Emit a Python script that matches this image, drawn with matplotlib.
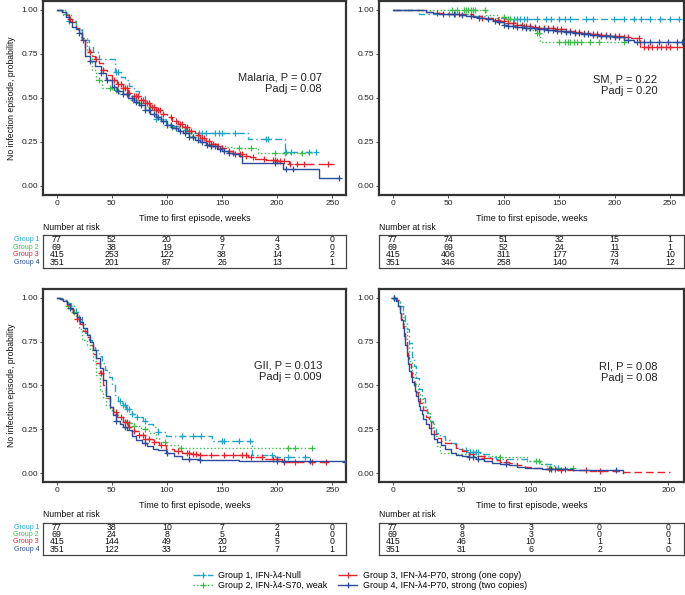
import numpy as np
import matplotlib
matplotlib.use('Agg')
import matplotlib.pyplot as plt
from matplotlib.lines import Line2D

plt.rcParams['font.family'] = ['Liberation Sans', 'DejaVu Sans']

# ---------------- data ----------------
group_names = ["Group 1", "Group 2", "Group 3", "Group 4"]
legend_labels = ["Group 1, IFN-\u03bb4-Null", "Group 2, IFN-\u03bb4-S70, weak",
                 "Group 3, IFN-\u03bb4-P70, strong (one copy)", "Group 4, IFN-\u03bb4-P70, strong (two copies)"]
colors = ["#20A4C8", "#3DBE4A", "#E8222B", "#2C4C9C"]

panel_titles = ["Malaria", "SM", "GII", "RI"]
p_values = ["0.07", "0.22", "0.013", "0.08"]
padj_values = ["0.08", "0.20", "0.009", "0.08"]

# Malaria
mal_t1 = [0, 6, 11, 17, 23, 29, 33, 38, 53, 58, 62, 66, 70, 75, 80, 85, 90, 99, 105, 111, 118, 123, 174, 207.5, 238]
mal_s1 = [1.0, 0.97, 0.94, 0.89, 0.83, 0.79, 0.76, 0.72, 0.65, 0.62, 0.60, 0.57, 0.54, 0.51, 0.47, 0.43, 0.38, 0.355, 0.34, 0.32, 0.31, 0.30, 0.265, 0.195, 0.195]
mal_c1 = [11, 54, 56, 90, 95, 117, 129, 132, 135, 144, 147, 150, 162, 190, 192, 208, 213, 229, 235]
mal_t2 = [0, 8, 13, 17, 22, 27, 32, 36, 41, 50, 55, 60, 65, 69, 75, 80, 84, 90, 95, 99, 105, 114, 118, 123, 130, 135, 145, 153, 159, 183, 232]
mal_s2 = [1.0, 0.98, 0.94, 0.90, 0.84, 0.76, 0.66, 0.60, 0.555, 0.545, 0.53, 0.52, 0.50, 0.49, 0.47, 0.45, 0.43, 0.40, 0.37, 0.345, 0.335, 0.33, 0.30, 0.28, 0.26, 0.24, 0.23, 0.22, 0.215, 0.185, 0.185]
mal_c2 = [8, 38, 48, 54, 69, 72, 75, 105, 120, 124, 165, 176, 198, 207, 223]
mal_t3 = [0, 5, 8, 11, 14, 17, 20, 23, 26, 29, 32, 35, 38, 42, 46, 50, 55, 60, 65, 70, 75, 80, 85, 90, 95, 100, 105, 110, 115, 120, 125, 130, 135, 140, 145, 150, 155, 160, 165, 170, 175, 180, 190, 200, 211, 252]
mal_s3 = [1.0, 0.99, 0.97, 0.95, 0.93, 0.90, 0.87, 0.83, 0.79, 0.76, 0.74, 0.72, 0.70, 0.66, 0.63, 0.60, 0.58, 0.555, 0.53, 0.51, 0.49, 0.47, 0.45, 0.43, 0.41, 0.39, 0.37, 0.35, 0.335, 0.315, 0.29, 0.27, 0.255, 0.24, 0.23, 0.215, 0.20, 0.19, 0.18, 0.17, 0.165, 0.155, 0.15, 0.14, 0.127, 0.127]
mal_c3 = [12, 24, 30, 36, 42, 50, 52, 56, 58, 60, 62, 64, 66, 70, 72, 74, 76, 78, 80, 82, 84, 86, 88, 90, 92, 94, 96, 104, 108, 112, 114, 116, 118, 120, 122, 128, 132, 134, 138, 140, 142, 146, 150, 156, 160, 166, 168, 172, 178, 188, 196, 198, 200, 203, 206, 212, 218, 224, 246]
mal_t4 = [0, 5, 8, 11, 14, 17, 20, 23, 26, 30, 35, 40, 45, 50, 55, 60, 65, 70, 75, 80, 85, 90, 95, 100, 105, 110, 115, 120, 125, 130, 135, 140, 145, 150, 155, 160, 165, 168, 205, 238, 256]
mal_s4 = [1.0, 0.99, 0.96, 0.93, 0.905, 0.89, 0.87, 0.83, 0.74, 0.71, 0.68, 0.64, 0.60, 0.56, 0.54, 0.52, 0.50, 0.48, 0.46, 0.43, 0.41, 0.39, 0.37, 0.345, 0.33, 0.315, 0.30, 0.28, 0.26, 0.25, 0.235, 0.225, 0.21, 0.20, 0.19, 0.18, 0.17, 0.133, 0.095, 0.045, 0.045]
mal_c4 = [20, 30, 40, 46, 52, 56, 60, 64, 68, 72, 76, 80, 84, 88, 92, 96, 100, 104, 108, 112, 116, 120, 124, 128, 132, 136, 140, 144, 148, 152, 156, 162, 198, 208, 214, 256]

# SM
sm_t1 = [0, 24, 54, 70, 84, 102, 262]
sm_s1 = [1.0, 0.977, 0.975, 0.965, 0.955, 0.948, 0.948]
sm_c1 = [51, 56, 109, 112, 115, 118, 121, 130, 138, 143, 150, 155, 160, 174, 180, 199, 208, 217, 224, 232, 241, 250, 258]
sm_t2 = [0, 84, 95, 102, 110, 120, 130, 133, 211]
sm_s2 = [1.0, 0.97, 0.96, 0.95, 0.92, 0.886, 0.87, 0.82, 0.82]
sm_c2 = [53, 58, 64, 66, 68, 70, 72, 74, 83, 100, 104, 106, 130, 132, 150, 155, 158, 160, 163, 166, 170, 178, 186, 208]
sm_t3 = [0, 30, 40, 50, 60, 72, 80, 90, 96, 102, 110, 117, 125, 132, 140, 148, 156, 163, 170, 178, 186, 193, 200, 208, 215, 223, 262]
sm_s3 = [1.0, 0.99, 0.985, 0.98, 0.975, 0.965, 0.955, 0.945, 0.935, 0.925, 0.915, 0.91, 0.905, 0.90, 0.895, 0.89, 0.88, 0.875, 0.87, 0.865, 0.86, 0.855, 0.85, 0.845, 0.84, 0.79, 0.79]
sm_c3 = [40, 60, 80, 95, 100, 104, 108, 112, 116, 120, 124, 128, 132, 136, 140, 144, 148, 152, 156, 160, 164, 168, 172, 176, 180, 184, 188, 192, 196, 200, 204, 208, 212, 222, 226, 230, 234, 238, 242, 246, 250, 256]
sm_t4 = [0, 30, 36, 42, 48, 54, 60, 66, 72, 78, 84, 90, 96, 100, 104, 110, 117, 125, 132, 140, 148, 156, 163, 170, 178, 186, 193, 200, 208, 217, 262]
sm_s4 = [1.0, 0.99, 0.985, 0.98, 0.978, 0.975, 0.97, 0.965, 0.96, 0.955, 0.948, 0.94, 0.93, 0.915, 0.91, 0.905, 0.90, 0.895, 0.89, 0.885, 0.88, 0.875, 0.87, 0.865, 0.86, 0.855, 0.85, 0.845, 0.83, 0.82, 0.82]
sm_c4 = [45, 55, 62, 70, 78, 86, 92, 96, 100, 104, 108, 112, 116, 120, 124, 128, 132, 136, 140, 144, 148, 152, 156, 160, 164, 168, 172, 176, 180, 184, 188, 192, 196, 200, 204, 212, 220, 226, 232, 240, 248, 256, 261]

# GII
gii_t1 = [0, 5, 9, 13, 17, 20, 23, 26, 29, 32, 35, 38, 41, 44, 47, 50, 53, 56, 59, 63, 68, 73, 78, 83, 87, 92, 99, 141, 177, 198, 230]
gii_s1 = [1.0, 0.985, 0.97, 0.95, 0.92, 0.89, 0.85, 0.80, 0.76, 0.73, 0.70, 0.665, 0.63, 0.59, 0.55, 0.50, 0.445, 0.41, 0.39, 0.365, 0.34, 0.32, 0.30, 0.28, 0.265, 0.237, 0.21, 0.185, 0.105, 0.095, 0.095]
gii_c1 = [57, 60, 62, 64, 66, 68, 73, 80, 92, 114, 124, 131, 150, 152, 165, 175, 195, 210, 225]
gii_t2 = [0, 5, 10, 14, 17, 20, 23, 27, 30, 33, 36, 39, 42, 45, 48, 52, 56, 60, 65, 70, 76, 84, 90, 93, 99, 111, 232]
gii_s2 = [1.0, 0.985, 0.955, 0.92, 0.89, 0.82, 0.76, 0.73, 0.70, 0.64, 0.56, 0.47, 0.43, 0.39, 0.36, 0.34, 0.32, 0.30, 0.285, 0.27, 0.25, 0.23, 0.20, 0.18, 0.16, 0.142, 0.142]
gii_c2 = [10, 16, 66, 70, 80, 98, 113, 210, 216, 232]
gii_t3 = [0, 3, 6, 9, 12, 15, 18, 21, 24, 27, 30, 33, 36, 39, 42, 45, 48, 51, 55, 60, 65, 70, 75, 80, 87, 93, 99, 106, 114, 122, 129, 174, 189, 204, 247]
gii_s3 = [1.0, 0.99, 0.98, 0.96, 0.935, 0.91, 0.88, 0.85, 0.81, 0.775, 0.73, 0.68, 0.63, 0.57, 0.50, 0.43, 0.38, 0.35, 0.32, 0.29, 0.265, 0.24, 0.215, 0.195, 0.18, 0.16, 0.14, 0.128, 0.118, 0.11, 0.105, 0.095, 0.08, 0.066, 0.066]
gii_c3 = [18, 20, 40, 54, 58, 62, 64, 66, 70, 75, 78, 80, 84, 88, 95, 110, 118, 120, 124, 126, 130, 140, 152, 160, 168, 172, 176, 186, 196, 200, 206, 216, 232, 244]
gii_t4 = [0, 3, 6, 9, 12, 15, 18, 21, 24, 27, 30, 33, 36, 39, 42, 45, 48, 51, 54, 57, 60, 64, 68, 72, 77, 82, 87, 92, 99, 106, 114, 130, 150, 165, 262]
gii_s4 = [1.0, 0.99, 0.98, 0.965, 0.94, 0.915, 0.89, 0.86, 0.825, 0.785, 0.745, 0.70, 0.655, 0.60, 0.53, 0.44, 0.38, 0.33, 0.30, 0.28, 0.265, 0.245, 0.21, 0.19, 0.17, 0.155, 0.14, 0.13, 0.115, 0.10, 0.08, 0.078, 0.076, 0.07, 0.065]
gii_c4 = [12, 54, 62, 80, 100, 120, 130, 200, 206, 230, 262]

# RI
ri_t1 = [0, 3, 5, 7, 9, 10, 12, 14, 15, 17, 19, 21, 23, 25, 27, 29, 31, 34, 38, 42, 46, 50, 54, 63, 70, 75, 97, 107, 117, 121]
ri_s1 = [1.0, 0.98, 0.95, 0.91, 0.86, 0.82, 0.74, 0.66, 0.61, 0.54, 0.48, 0.43, 0.38, 0.345, 0.30, 0.26, 0.23, 0.21, 0.19, 0.175, 0.137, 0.13, 0.12, 0.108, 0.09, 0.08, 0.07, 0.051, 0.028, 0.028]
ri_c1 = [1, 53, 56, 58, 60, 62, 120]
ri_t2 = [0, 3, 5, 7, 8, 10, 12, 14, 16, 18, 20, 22, 24, 27, 30, 32, 34, 46, 58, 78, 97, 107, 112, 131]
ri_s2 = [1.0, 0.985, 0.95, 0.89, 0.84, 0.74, 0.64, 0.57, 0.51, 0.46, 0.42, 0.38, 0.35, 0.29, 0.21, 0.155, 0.118, 0.108, 0.099, 0.09, 0.07, 0.051, 0.027, 0.027]
ri_c2 = [1, 78, 104, 106, 114, 131]
ri_t3 = [0, 2, 4, 5, 6, 7, 8, 9, 10, 11, 12, 13, 14, 15, 16, 17, 18, 19, 20, 22, 24, 26, 28, 30, 32, 35, 38, 42, 46, 50, 55, 60, 66, 72, 78, 84, 90, 96, 102, 108, 119, 143, 167, 201]
ri_s3 = [1.0, 0.985, 0.955, 0.92, 0.88, 0.84, 0.80, 0.75, 0.705, 0.66, 0.62, 0.58, 0.55, 0.516, 0.49, 0.46, 0.44, 0.42, 0.40, 0.36, 0.32, 0.29, 0.255, 0.225, 0.20, 0.185, 0.175, 0.165, 0.145, 0.127, 0.11, 0.10, 0.085, 0.074, 0.065, 0.057, 0.048, 0.038, 0.03, 0.023, 0.017, 0.013, 0.008, 0.008]
ri_c3 = [66, 82, 113, 118, 122, 140, 150]
ri_t4 = [0, 2, 4, 5, 6, 7, 8, 9, 10, 11, 12, 13, 14, 15, 16, 17, 18, 19, 20, 21, 22, 24, 26, 28, 30, 32, 35, 38, 42, 46, 50, 55, 60, 66, 72, 78, 84, 90, 96, 102, 108, 131, 167]
ri_s4 = [1.0, 0.98, 0.95, 0.91, 0.87, 0.83, 0.78, 0.73, 0.67, 0.62, 0.58, 0.55, 0.52, 0.50, 0.47, 0.44, 0.41, 0.385, 0.36, 0.335, 0.31, 0.28, 0.255, 0.225, 0.195, 0.18, 0.16, 0.14, 0.118, 0.105, 0.10, 0.09, 0.08, 0.07, 0.06, 0.053, 0.045, 0.038, 0.032, 0.027, 0.023, 0.019, 0.0]
ri_c4 = [1, 55, 58, 62, 82, 115, 125, 162]

# numbers at risk
risk_times_250 = [0, 50, 100, 150, 200, 250]
risk_times_200 = [0, 50, 100, 150, 200]
mal_risk = [[77, 52, 20, 9, 4, 0], [69, 38, 19, 7, 3, 0], [415, 253, 122, 38, 14, 2], [351, 201, 87, 26, 13, 1]]
sm_risk = [[77, 74, 51, 32, 15, 1], [69, 69, 52, 24, 11, 1], [415, 406, 311, 177, 73, 10], [351, 346, 258, 140, 74, 12]]
gii_risk = [[77, 38, 10, 7, 2, 0], [69, 24, 8, 5, 4, 0], [415, 144, 49, 20, 5, 0], [351, 122, 33, 12, 7, 1]]
ri_risk = [[77, 9, 3, 0, 0], [69, 8, 3, 0, 0], [415, 46, 10, 1, 1], [351, 31, 6, 2, 0]]

y_ticks = [0.0, 0.25, 0.5, 0.75, 1.0]
y_tick_labels = ["0.00", "0.25", "0.50", "0.75", "1.00"]

# ---------------- styles ----------------
linestyles = [(0, (5.0, 2.2, 1, 2.2)), (0, (1, 1.6)), (0, (5.5, 2.8)), '-']
W, H = 685, 595
DARK = '#333333'

fig = plt.figure(figsize=(W / 100, H / 100), dpi=100)


def px_axes(l, t, r, b):
    return fig.add_axes([l / W, 1 - b / H, (r - l) / W, (b - t) / H])


def ftxt(x, y, s, **kw):
    fig.text(x / W, 1 - y / H, s, **kw)


panels = [
    dict(curves=[(mal_t1, mal_s1, mal_c1), (mal_t2, mal_s2, mal_c2), (mal_t3, mal_s3, mal_c3), (mal_t4, mal_s4, mal_c4)],
         risk=mal_risk, rt=risk_times_250, xlim=(-12.5, 262.5), box=(43, 1.2, 346, 194.8), tbox=(43, 235, 346, 268.3),
         left=True, ptext=(0.921, 0.608, 0.546)),
    dict(curves=[(sm_t1, sm_s1, sm_c1), (sm_t2, sm_s2, sm_c2), (sm_t3, sm_s3, sm_c3), (sm_t4, sm_s4, sm_c4)],
         risk=sm_risk, rt=risk_times_250, xlim=(-12.5, 262.5), box=(379, 1.2, 684, 194.8), tbox=(379, 235, 684, 268.3),
         left=False, ptext=(0.912, 0.598, 0.536)),
    dict(curves=[(gii_t1, gii_s1, gii_c1), (gii_t2, gii_s2, gii_c2), (gii_t3, gii_s3, gii_c3), (gii_t4, gii_s4, gii_c4)],
         risk=gii_risk, rt=risk_times_250, xlim=(-12.5, 262.5), box=(43, 288.9, 346, 482), tbox=(43, 522.7, 346, 555),
         left=True, ptext=(0.921, 0.602, 0.542)),
    dict(curves=[(ri_t1, ri_s1, ri_c1), (ri_t2, ri_s2, ri_c2), (ri_t3, ri_s3, ri_c3), (ri_t4, ri_s4, ri_c4)],
         risk=ri_risk, rt=risk_times_200, xlim=(-10.06, 211.3), box=(379, 288.9, 684, 482), tbox=(379, 522.7, 684, 555),
         left=False, ptext=(0.912, 0.597, 0.537)),
]

row_fracs = [0.865, 0.635, 0.405, 0.175]

for i, p in enumerate(panels):
    ax = px_axes(*p['box'])
    for g, (t, s, c) in enumerate(p['curves']):
        t = np.asarray(t, float)
        s = np.asarray(s, float)
        ax.step(t, s, where='post', color=colors[g], ls=linestyles[g], lw=1.0, zorder=2 + g)
        c = np.asarray(c, float)
        idx = np.clip(np.searchsorted(t, c, side='right') - 1, 0, len(s) - 1)
        ax.plot(c, s[idx], ls='none', marker='+', ms=4.5, mew=0.9, color=colors[g], zorder=2 + g)
    ax.set_xlim(*p['xlim'])
    ax.set_ylim(-0.05, 1.05)
    ax.set_xticks(p['rt'])
    ax.set_xticklabels([str(v) for v in p['rt']])
    ax.set_yticks(y_ticks)
    ax.set_yticklabels(y_tick_labels)
    ax.tick_params(labelsize=6, length=2, width=0.6, color=DARK, labelcolor='#222222', pad=1.5)
    for sp in ax.spines.values():
        sp.set_linewidth(1.6)
        sp.set_color(DARK)
    tx, ty1, ty2 = p['ptext']
    ax.text(tx, ty1, f"{panel_titles[i]}, P = {p_values[i]}", transform=ax.transAxes, ha='right', va='center',
            fontsize=8, color='#222222')
    ax.text(tx, ty2, f"Padj = {padj_values[i]}", transform=ax.transAxes, ha='right', va='center',
            fontsize=8, color='#222222')

    l, t0, r, b = p['box']
    ax.set_xlabel("Time to first episode, weeks", fontsize=6.5, labelpad=5, color='#111111')
    if p['left']:
        ftxt(12, (t0 + b) / 2, "No infection episode, probability", rotation=90, ha='center', va='center',
             fontsize=6.2, color='#111111')

    # risk table
    tl, tt, tr, tb = p['tbox']
    ftxt(tl, tt - 8, "Number at risk", ha='left', va='center', fontsize=6.2, color='#111111')
    tax = px_axes(tl, tt, tr, tb)
    tax.set_xlim(*p['xlim'])
    tax.set_ylim(0, 1)
    tax.set_xticks([])
    tax.set_yticks([])
    for sp in tax.spines.values():
        sp.set_linewidth(0.9)
        sp.set_color('#444444')
    for g in range(4):
        for x, v in zip(p['rt'], p['risk'][g]):
            tax.text(x, row_fracs[g], str(v), ha='center', va='center', fontsize=6.3, color='#111111')
        if p['left']:
            ftxt(tl - 4, tb - row_fracs[g] * (tb - tt), group_names[g], ha='right', va='center',
                 fontsize=5, color=colors[g])

# legend
handles = [Line2D([0], [0], color=colors[g], ls=linestyles[g], lw=1.0, marker='+', ms=5, mew=0.9)
           for g in range(4)]
fig.legend(handles, legend_labels,
           ncol=2, loc='center', bbox_to_anchor=(360 / W, 1 - 580.5 / H), frameon=False, fontsize=6.4,
           handlelength=2.2, handletextpad=0.6, columnspacing=1.2, labelspacing=0.15, borderpad=0)

fig.savefig('out.png', dpi=100)
